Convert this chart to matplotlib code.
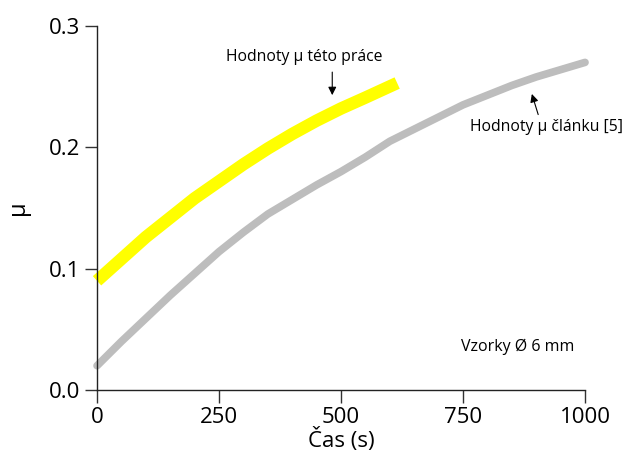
import matplotlib.pyplot as plt

plt.rcParams['font.family'] = ['Open Sans', 'DejaVu Sans']

# values
t_prace = [0, 50, 100, 150, 200, 250, 300, 350, 400, 450, 500, 550, 615]
mu_prace = [0.090, 0.108, 0.126, 0.142, 0.158, 0.172, 0.186, 0.199, 0.211, 0.222, 0.232, 0.241, 0.253]

t_clanek = [0, 25, 50, 100, 150, 200, 250, 300, 350, 400, 450, 500, 550, 600, 650,
            700, 750, 800, 850, 900, 950, 1000]
mu_clanek = [0.020, 0.030, 0.040, 0.059, 0.078, 0.096, 0.114, 0.130, 0.145, 0.157, 0.169, 0.180,
             0.192, 0.205, 0.215, 0.225, 0.235, 0.243, 0.251, 0.258, 0.264, 0.270]

x_ticks = [0, 250, 500, 750, 1000]
y_ticks = [0.0, 0.1, 0.2, 0.3]

fig = plt.figure(figsize=(6.28, 4.65), dpi=100)
ax = fig.add_axes([0.1545, 0.1613, 0.7771, 0.7828])

ax.plot(t_clanek, mu_clanek, color='#bdbdbd', lw=5.5, solid_capstyle='round',
        solid_joinstyle='round', clip_on=False)
ax.plot(t_prace, mu_prace, color='#ffff00', lw=9, solid_capstyle='butt',
        solid_joinstyle='round', clip_on=False)

ax.set_xlim(0, 1000)
ax.set_ylim(0, 0.3)
ax.set_xticks(x_ticks)
ax.set_yticks(y_ticks)
ax.set_xticklabels([str(v) for v in x_ticks])
ax.set_yticklabels(['%.1f' % v for v in y_ticks])
ax.tick_params(direction='out', length=9, width=1, colors='#333333', labelsize=16,
               labelcolor='black', pad=3)

for s in ['top', 'right']:
    ax.spines[s].set_visible(False)
for s in ['left', 'bottom']:
    ax.spines[s].set_color('#222222')
    ax.spines[s].set_linewidth(1)

ax.set_xlabel('Čas (s)', fontsize=16, labelpad=0)
ax.set_ylabel('μ', fontsize=17, labelpad=14)

arrow = dict(arrowstyle='-|>', color='black', lw=0.8, mutation_scale=12, shrinkA=0, shrinkB=0)
ax.text(424, 0.2745, 'Hodnoty μ této práce', fontsize=11.3, ha='center', va='center')
ax.annotate('', xy=(482, 0.243), xytext=(482, 0.262), arrowprops=arrow)
ax.text(922, 0.2168, 'Hodnoty μ článku [5]', fontsize=11.3, ha='center', va='center')
ax.annotate('', xy=(891, 0.244), xytext=(904, 0.227), arrowprops=arrow)
ax.text(863, 0.0355, 'Vzorky Ø 6 mm', fontsize=11.5, ha='center', va='center')

fig.savefig('out.png', dpi=100)
